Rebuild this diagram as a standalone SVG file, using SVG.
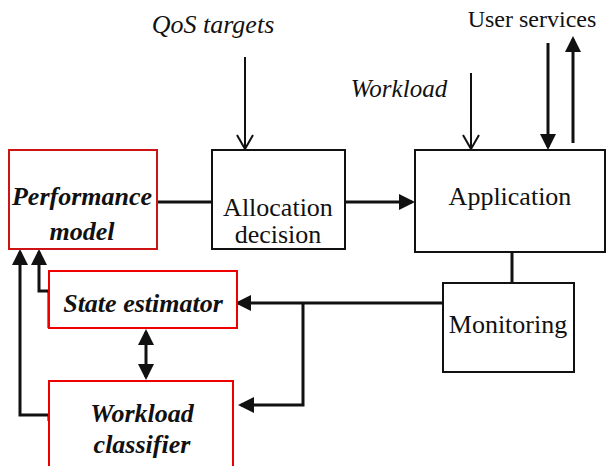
<svg xmlns="http://www.w3.org/2000/svg" width="606" height="466" viewBox="0 0 606 466">
<style>
  .box { fill: #fff; stroke: #111; stroke-width: 2; }
  .rbox { fill: #fff; stroke: #ee0000; stroke-width: 2; }
  .rbox2 { fill: #fff; stroke: #cc1414; stroke-width: 2; }
  .c { fill: none; stroke: #111; stroke-width: 3; }
  .c2 { fill: none; stroke: #111; stroke-width: 2; }
</style>
<defs>
  <marker id="arr" viewBox="0 0 16 16" refX="13" refY="8" markerWidth="16" markerHeight="16" markerUnits="userSpaceOnUse" orient="auto-start-reverse">
    <path d="M0,0 L16,8 L0,16 z" fill="#111"/>
  </marker>
  <marker id="vee" viewBox="0 0 18 18" refX="15" refY="9" markerWidth="18" markerHeight="18" markerUnits="userSpaceOnUse" orient="auto">
    <path d="M1,1 L15,9 L1,17" fill="none" stroke="#111" stroke-width="2"/>
  </marker>
</defs>

<g id="labels" font-family="'Liberation Serif', 'Times New Roman', serif" font-size="26" fill="#111" text-anchor="middle">
  <text font-style="italic" x="213" y="33">QoS targets</text>
  <text x="532" y="27" font-size="24">User services</text>
  <text font-style="italic" x="399" y="97" font-size="25">Workload</text>
</g>

<g id="connectors">
  <line class="c" x1="157" y1="202" x2="212" y2="202"/>
  <line class="c" x1="345" y1="202" x2="412" y2="202" marker-end="url(#arr)"/>
  <line class="c2" x1="245" y1="57" x2="245" y2="149" marker-end="url(#vee)"/>
  <line class="c2" x1="471" y1="73" x2="471" y2="149" marker-end="url(#vee)"/>
  <line class="c" x1="548" y1="43" x2="548" y2="147" marker-end="url(#arr)"/>
  <line class="c" x1="573" y1="143" x2="573" y2="39" marker-end="url(#arr)"/>
  <line class="c" x1="512" y1="252" x2="512" y2="283"/>
  <path class="c" d="M443,303 L238,303" marker-end="url(#arr)"/>
  <path class="c" d="M303,303 L303,405 L241,405" marker-end="url(#arr)"/>
  <path class="c" d="M146,332 L146,377" marker-start="url(#arr)" marker-end="url(#arr)"/>
  <path class="c" d="M49,421 L49,415 L20,415 L20,252" marker-end="url(#arr)"/>
  <path class="c" d="M49,328 L49,291 L39,291 L39,252" marker-end="url(#arr)"/>
</g>

<g id="performance-model" font-family="'Liberation Serif', 'Times New Roman', serif" font-size="26" fill="#111" text-anchor="middle" font-weight="bold" font-style="italic">
  <rect class="rbox2" x="9" y="150" width="148" height="99"/>
  <text x="82" y="205">Performance</text>
  <text x="82" y="240">model</text>
</g>

<g id="allocation-decision" font-family="'Liberation Serif', 'Times New Roman', serif" font-size="26" fill="#111" text-anchor="middle">
  <rect class="box" x="212" y="150" width="133" height="99"/>
  <text x="278" y="216">Allocation</text>
  <text x="278" y="243">decision</text>
</g>

<g id="application" font-family="'Liberation Serif', 'Times New Roman', serif" font-size="26" fill="#111" text-anchor="middle">
  <rect class="box" x="415" y="150" width="190" height="102"/>
  <text x="510" y="205">Application</text>
</g>

<g id="monitoring" font-family="'Liberation Serif', 'Times New Roman', serif" font-size="26" fill="#111" text-anchor="middle">
  <rect class="box" x="443" y="283" width="131" height="89"/>
  <text x="508" y="333">Monitoring</text>
</g>

<g id="state-estimator" font-family="'Liberation Serif', 'Times New Roman', serif" font-size="26" fill="#111" text-anchor="middle" font-weight="bold" font-style="italic">
  <rect class="rbox" x="49" y="271" width="188" height="57"/>
  <text x="143" y="312">State estimator</text>
</g>

<g id="workload-classifier" font-family="'Liberation Serif', 'Times New Roman', serif" font-size="26" fill="#111" text-anchor="middle" font-weight="bold" font-style="italic">
  <rect class="rbox" x="49" y="381" width="184" height="92"/>
  <text x="142" y="422">Workload</text>
  <text x="142" y="453">classifier</text>
</g>
</svg>
